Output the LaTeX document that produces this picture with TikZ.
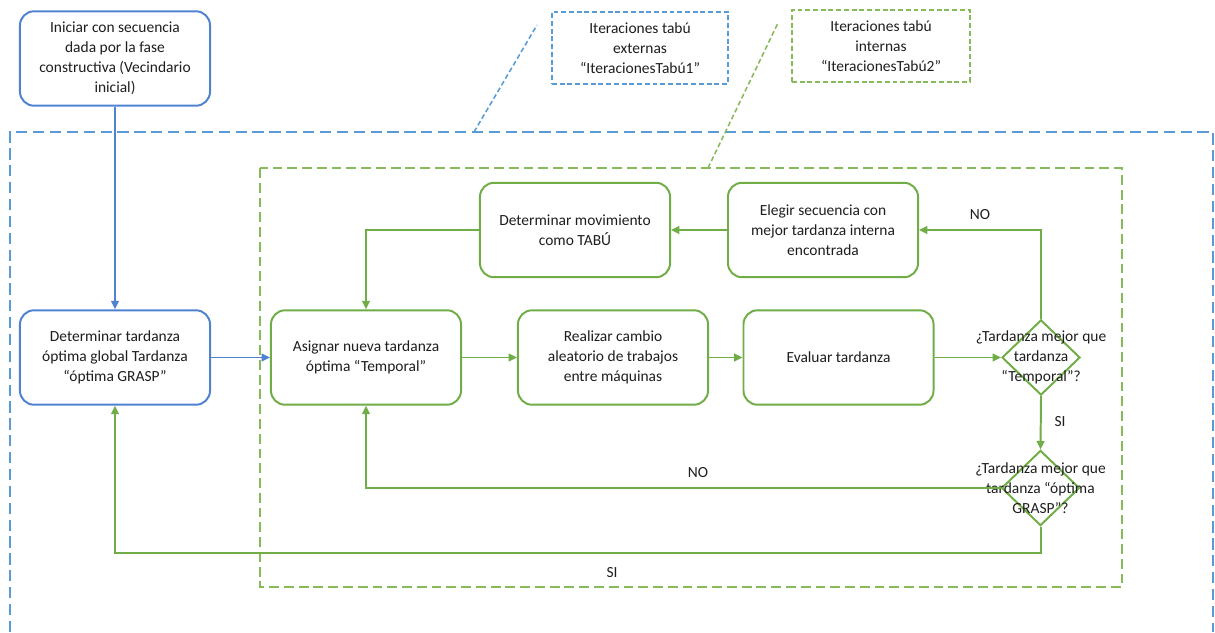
\documentclass[tikz,border=0pt]{standalone}
\usepackage{fontspec}
\setmainfont{Carlito}
\usetikzlibrary{arrows.meta,shapes.geometric}
\definecolor{bluebox}{RGB}{80,130,210}
\definecolor{bluedash}{RGB}{91,155,213}
\definecolor{greenbox}{RGB}{112,173,71}
\definecolor{greendash}{RGB}{135,186,88}
\definecolor{txt}{RGB}{30,30,30}
\tikzset{
  every node/.style={text=txt, font=\fontsize{11}{14.2}\selectfont},
  boxbase/.style={rounded corners=10pt, fill=white, line width=1.4pt, minimum width=4.75cm, minimum height=2.36cm, align=center, inner sep=2pt},
  bbox/.style={boxbase, draw=bluebox},
  gbox/.style={boxbase, draw=greenbox},
  dia/.style={diamond, draw=greenbox, line width=1.4pt, minimum width=1.95cm, minimum height=1.88cm, inner sep=0pt},
  callb/.style={draw=bluedash, line width=1.1pt, dash pattern=on 3.5pt off 2pt, minimum width=4.4cm, minimum height=1.8cm, align=center, inner sep=2pt},
  callg/.style={draw=greendash, line width=1.1pt, dash pattern=on 3.5pt off 2pt, minimum width=4.45cm, minimum height=1.8cm, align=center, inner sep=2pt},
  barrow/.style={draw=bluebox, line width=1.4pt, -{Triangle[length=6pt,width=5.5pt]}},
  garrow/.style={draw=greenbox, line width=1.4pt, -{Triangle[length=6pt,width=5.5pt]}},
  lbl/.style={inner sep=1pt},
}
\begin{document}
\begin{tikzpicture}[x=0.025cm, y=-0.025cm]
\useasboundingbox (0,0) rectangle (1215,632);
% frames
\draw[draw=bluedash, line width=1.1pt, dash pattern=on 8pt off 4pt] (10,632) -- (10,132) -- (1213,132) -- (1213,632);
\draw[draw=greendash, line width=1.1pt, dash pattern=on 7pt off 3.5pt] (260,168) rectangle (1122,587);
% callouts
\node[callb] (c1) at (640,48) {Iteraciones tabú\\externas\\“IteracionesTabú1”};
\node[callg] (c2) at (881,46) {Iteraciones tabú\\internas\\“IteracionesTabú2”};
\coordinate (c1a) at (474,132);
\coordinate (c1b) at (537,25);
\coordinate (c2a) at (708,168);
\coordinate (c2b) at (778,23);
\draw[draw=bluedash, line width=1.1pt, dash pattern=on 3.5pt off 2pt] (c1a) -- (c1b);
\draw[draw=greendash, line width=1.1pt, dash pattern=on 3.5pt off 2pt] (c2a) -- (c2b);
% boxes
\node[bbox] (start) at (115,58.5) {Iniciar con secuencia\\dada por la fase\\constructiva (Vecindario\\inicial)};
\node[bbox] (glob) at (115,357.5) {Determinar tardanza\\óptima global Tardanza\\“óptima GRASP”};
\node[gbox] (asig) at (366,357.5) {Asignar nueva tardanza\\óptima “Temporal”};
\node[gbox] (real) at (613,357.5) {Realizar cambio\\aleatorio de trabajos\\entre máquinas};
\node[gbox] (eval) at (838.5,357.5) {Evaluar tardanza};
\node[gbox] (detmov) at (575,230) {Determinar movimiento\\como TABÚ};
\node[gbox] (elegir) at (823,230) {Elegir secuencia con\\mejor tardanza interna\\encontrada};
\node[dia, label={[align=center, inner sep=0pt]center:¿Tardanza mejor que\\tardanza\\“Temporal”?}] (d1) at (1041,357.5) {};
\node[dia, label={[align=center, inner sep=0pt]center:¿Tardanza mejor que\\tardanza “óptima\\GRASP”?}] (d2) at (1040.5,488) {};
% connectors
\draw[barrow] (start) -- (glob);
\draw[barrow] (glob) -- (asig);
\draw[garrow] (asig) -- (real);
\draw[garrow] (real) -- (eval);
\draw[garrow] (eval) -- (d1);
\draw[garrow] (d1.north) |- (elegir.east);
\draw[garrow] (elegir) -- (detmov);
\draw[garrow] (detmov.west) -| (asig.north);
\draw[garrow] (d1.south) -- (d2.north);
\draw[garrow] (d2.west) -| (asig.south);
\coordinate (bot) at (1040.5,553);
\draw[garrow] (d2.south) -- (bot) -| (glob.south);
% labels
\node[lbl] (no1) at (980,215) {NO};
\node[lbl] (si1) at (1060,422) {SI};
\node[lbl] (no2) at (698,473) {NO};
\node[lbl] (si2) at (612,573) {SI};
\end{tikzpicture}
\end{document}
